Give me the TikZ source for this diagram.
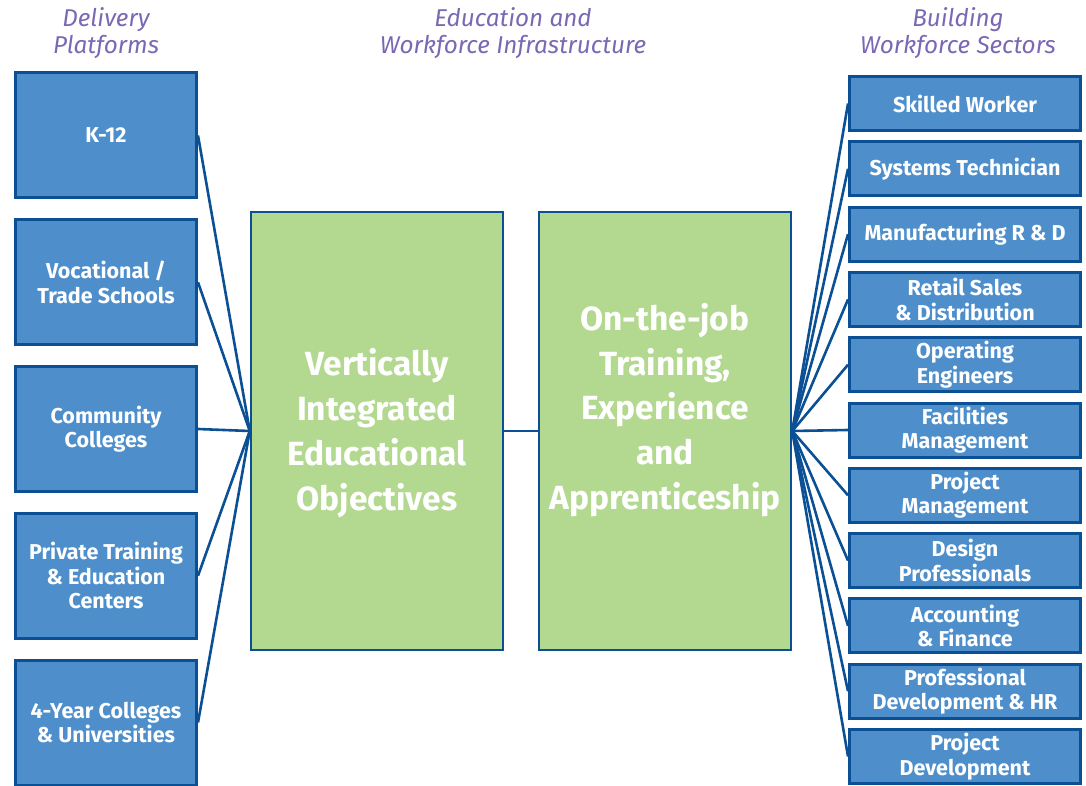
\documentclass[tikz,border=0pt]{standalone}
\usepackage{fontspec}
\setmainfont{Fira Sans}
\definecolor{boxblue}{HTML}{4E8FCB}
\definecolor{edgeblue}{HTML}{0B4F94}
\definecolor{boxgreen}{HTML}{B3D88F}
\definecolor{titlepurple}{HTML}{7A68B4}
\begin{document}
\begin{tikzpicture}[x=1pt,y=-1pt,
  platform/.style={draw=edgeblue,line width=3pt,fill=boxblue,minimum width=181pt,minimum height=125pt,inner sep=0pt,
    text=white,align=center,font=\fontsize{21.5}{24.5}\selectfont\bfseries},
  sector/.style={draw=edgeblue,line width=3pt,fill=boxblue,minimum width=231pt,minimum height=54pt,inner sep=0pt,
    text=white,align=center,font=\fontsize{21.5}{24.5}\selectfont\bfseries},
  core/.style={draw=edgeblue,line width=2.5pt,fill=boxgreen,minimum width=252pt,minimum height=438pt,inner sep=0pt},
  coretext/.style={text=white,align=center,font=\fontsize{33.5}{44.8}\selectfont\bfseries},
  heading/.style={text=titlepurple,align=center,font=\fontsize{24.3}{27.5}\selectfont\itshape},
  link/.style={draw=edgeblue,line width=2.6pt}]
\useasboundingbox (0,0) rectangle (1086,786);
% headings
\node[heading] (h1) at (106,33) {Delivery\\Platforms};
\node[heading] (h2) at (513,33) {Education and\\Workforce Infrastructure};
\node[heading] (h3) at (958,33) {Building\\Workforce Sectors};
% left platforms
\node[platform] (p1) at (106,135.5) {K-12};
\node[platform] (p2) at (106,282.3) {Vocational /\\Trade Schools};
\node[platform] (p3) at (106,429) {Community\\Colleges};
\node[platform] (p4) at (106,575.8) {Private Training\\\& Education\\Centers};
\node[platform] (p5) at (106,722.5) {4-Year Colleges\\\& Universities};
% core
\node[core] (g1) at (377,431) {};
\node[core] (g2) at (665,431) {};
\node[coretext] (t1) at (377,433) {Vertically\\Integrated\\Educational\\Objectives};
\node[coretext] (t2) at (665,410) {On-the-job\\Training,\\Experience\\and\\Apprenticeship};
% right sectors
\node[sector] (s1) at (965,103.5) {Skilled Worker};
\node[sector] (s2) at (965,168.8) {Systems Technician};
\node[sector] (s3) at (965,234.1) {Manufacturing R \& D};
\node[sector] (s4) at (965,299.4) {Retail Sales\\\& Distribution};
\node[sector] (s5) at (965,364.7) {Operating\\Engineers};
\node[sector] (s6) at (965,430) {Facilities\\Management};
\node[sector] (s7) at (965,495.3) {Project\\Management};
\node[sector] (s8) at (965,560.6) {Design\\Professionals};
\node[sector] (s9) at (965,625.9) {Accounting\\\& Finance};
\node[sector] (s10) at (965,691.2) {Professional\\Development \& HR};
\node[sector] (s11) at (965,756.5) {Project\\Development};
% connectors
\foreach \i in {1,...,5} \draw[link] (p\i.east) -- (g1.west);
\draw[link] (g1.east) -- (g2.west);
\foreach \i in {1,...,11} \draw[link] (g2.east) -- (s\i.west);
\end{tikzpicture}
\end{document}
